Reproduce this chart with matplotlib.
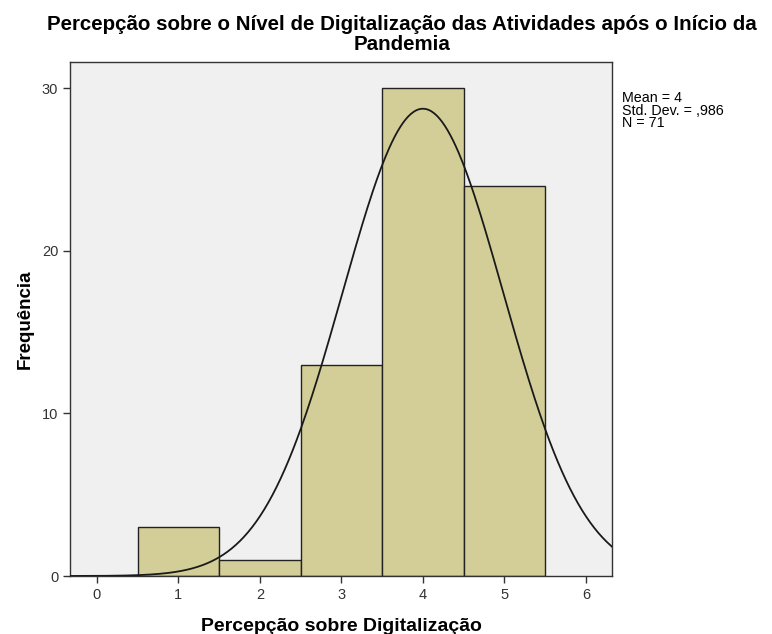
import numpy as np
import matplotlib
matplotlib.use("Agg")
import matplotlib.pyplot as plt

plt.rcParams['font.family'] = ['Liberation Sans', 'DejaVu Sans']

# Data
categories = [1, 2, 3, 4, 5]
frequencies = [3, 1, 13, 30, 24]
mean_value = 4.0
std_value = 0.986
n_value = 71
x_ticks = [0, 1, 2, 3, 4, 5, 6]
y_ticks = [0, 10, 20, 30]

fig = plt.figure(figsize=(7.72, 6.34), dpi=100)
ax = fig.add_axes([70/772, 1 - 576/634, (612-70)/772, (576-62)/634])
ax.set_facecolor('#F0F0F0')

ax.bar(categories, frequencies, width=1.0, color='#D3CE98', edgecolor='#222222', linewidth=1.0, zorder=2)

xs = np.linspace(-0.33, 6.32, 400)
ys = n_value * 1.0 * np.exp(-0.5 * ((xs - mean_value) / std_value) ** 2) / (std_value * np.sqrt(2 * np.pi))
ax.plot(xs, ys, color='#1a1a1a', linewidth=1.3, zorder=3)

ax.set_xlim(-0.33, 6.32)
ax.set_ylim(0, 31.6)
ax.set_xticks(x_ticks)
ax.set_yticks(y_ticks)
ax.tick_params(axis='both', labelsize=10.5, colors='#333333', length=5, width=1, direction='out')
for s in ax.spines.values():
    s.set_color('#333333')
    s.set_linewidth(1.0)

ax.set_xlabel('Percepção sobre Digitalização', fontsize=14, fontweight='bold', labelpad=12)
ax.set_ylabel('Frequência', fontsize=13.5, fontweight='bold', labelpad=6)
fig.text(0.521, 1 - 30/634, 'Percepção sobre o Nível de Digitalização das Atividades após o Início da',
         fontsize=14.8, fontweight='bold', ha='center', va='baseline')
fig.text(0.521, 1 - 50/634, 'Pandemia',
         fontsize=14.8, fontweight='bold', ha='center', va='baseline')

fig.text(622/772, 1 - 91/634, 'Mean = 4\nStd. Dev. = ,986\nN = 71', fontsize=10.3, va='top', ha='left',
         linespacing=0.87)

fig.savefig('out.png', dpi=100)
